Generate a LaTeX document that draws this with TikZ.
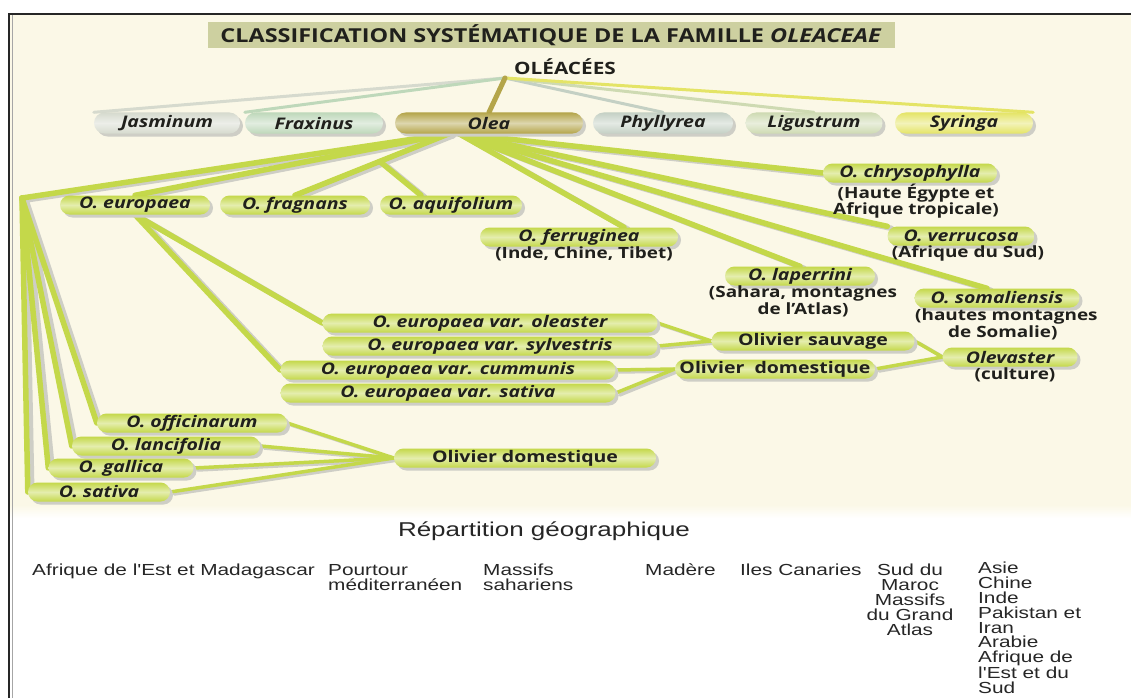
\documentclass[tikz,border=0pt]{standalone}
\usepackage{fontspec}
\setmainfont{Open Sans}[FakeStretch=1.22]
\newfontfamily\geofont{Liberation Sans}[FakeStretch=1.3]
\usetikzlibrary{positioning,shadows,calc}

\definecolor{paper}{RGB}{251,248,231}
\definecolor{lime}{RGB}{196,216,74}
\definecolor{twigshadow}{RGB}{206,206,198}
\definecolor{titlebox}{RGB}{205,208,160}
\definecolor{inktext}{RGB}{32,32,28}
\definecolor{jasgray}{RGB}{214,218,206}
\definecolor{fraxgreen}{RGB}{190,216,186}
\definecolor{oleaolive}{RGB}{180,165,74}
\definecolor{phylgray}{RGB}{196,208,196}
\definecolor{ligugreen}{RGB}{206,218,178}
\definecolor{syriyellow}{RGB}{228,228,102}

\pgfdeclarelayer{paperlayer}
\pgfdeclarelayer{twiglayer}
\pgfsetlayers{paperlayer,twiglayer,main}

\tikzset{
  pill/.style={rounded corners=9.5pt, minimum height=19pt, inner sep=1pt,
    top color=#1, bottom color=#1, middle color=#1!45!white,
    drop shadow={shadow xshift=3pt, shadow yshift=-3pt, fill=twigshadow, opacity=1},
    font=\fontsize{16}{16}\selectfont\bfseries\itshape, text=inktext},
  pill/.default=lime,
  genus/.style={pill=#1, minimum height=21pt, rounded corners=10.5pt},
  plain/.style={font=\fontsize{16}{16}\selectfont\bfseries\upshape},
  note/.style={font=\fontsize{15.5}{14.5}\selectfont\bfseries, align=center,
    inner sep=0pt, text=inktext},
  geo/.style={font=\geofont\fontsize{16}{14.8}\selectfont, inner sep=0pt,
    anchor=north west, align=left, text=black!85},
  twig/.style={draw=lime, line cap=round},
  twigshade/.style={draw=twigshadow, line cap=round,
    transform canvas={shift={(4pt,-2pt)}}}
}

\begin{document}
\begin{tikzpicture}[x=1pt,y=-1pt]
  \useasboundingbox (0,0) rectangle (1131,698);

  % heading
  \node[fill=titlebox, minimum width=687pt, minimum height=26pt, inner sep=0pt,
    font=\fontsize{19.2}{19}\selectfont\bfseries, text=inktext] (title) at (551,35)
    {CLASSIFICATION SYSTÉMATIQUE DE LA FAMILLE \textit{OLEACEAE}};
  \node[font=\fontsize{17}{17}\selectfont\bfseries, text=inktext] (oleacees) at (565,67) {OLÉACÉES};
  \coordinate (root) at (505,78);

  % genera
  \node[genus=jasgray, minimum width=146pt] (jasminum) at (167,123) {Jasminum};
  \node[genus=fraxgreen, minimum width=138pt] (fraxinus) at (314,123) {Fraxinus};
  \node[genus=oleaolive, minimum width=188pt] (olea) at (489,123) {Olea};
  \node[genus=phylgray, minimum width=140pt] (phyllyrea) at (663,123) {Phyllyrea};
  \node[genus=ligugreen, minimum width=137pt] (ligustrum) at (814,123) {Ligustrum};
  \node[genus=syriyellow, minimum width=138pt] (syringa) at (964,123) {Syringa};

  % species of Olea
  \node[pill, minimum width=150pt] (europaea) at (135,205) {O. europaea};
  \node[pill, minimum width=150pt] (fragnans) at (295,205) {O. fragnans};
  \node[pill, minimum width=142pt] (aquifolium) at (451,205) {O. aquifolium};
  \node[pill, minimum width=174pt] (chrysophylla) at (910,173) {O. chrysophylla};
  \node[note, below=1pt of chrysophylla, xshift=6pt] (chrysoregion) {(Haute Égypte et\\Afrique tropicale)};
  \node[pill, minimum width=198pt] (ferruginea) at (579,237) {O. ferruginea};
  \node[note, below=0pt of ferruginea, xshift=5pt] (ferruregion) {(Inde, Chine, Tibet)};
  \node[pill, minimum width=147pt] (verrucosa) at (961,236) {O. verrucosa};
  \node[note, below=0pt of verrucosa, xshift=7pt] (verruregion) {(Afrique du Sud)};
  \node[pill, minimum width=150pt] (laperrini) at (800,276) {O. laperrini};
  \node[note, below=0pt of laperrini, xshift=3pt] (laperregion) {(Sahara, montagnes\\de l'Atlas)};
  \node[pill, minimum width=165pt] (somaliensis) at (997,298) {O. somaliensis};
  \node[note, align=left, anchor=north west] (somaliregion) at (915,309)
    {(hautes montagnes\\\hspace*{33pt}de Somalie)};

  % varieties of O. europaea
  \node[pill, minimum width=335pt] (oleaster) at (490,323) {O. europaea var. oleaster};
  \node[pill, minimum width=335pt] (sylvestris) at (490,346) {O. europaea var. sylvestris};
  \node[pill, minimum width=335pt] (cummunis) at (448,370) {O. europaea var. cummunis};
  \node[pill, minimum width=335pt] (sativavar) at (448,393) {O. europaea var. sativa};
  \node[pill, plain, minimum width=203pt] (sauvage) at (813,341) {Olivier sauvage};
  \node[pill, plain, minimum width=200pt] (domup) at (775,369) {Olivier\ \ domestique};
  \node[pill, minimum width=135pt] (olevaster) at (1010,357) {Olevaster};
  \node[note, below=1pt of olevaster, xshift=5pt] (olevregion) {(culture)};

  % old names
  \node[pill, minimum width=190pt] (officinarum) at (192,423) {O. officinarum};
  \node[pill, minimum width=188pt] (lancifolia) at (166,446) {O. lancifolia};
  \node[pill, minimum width=145pt] (gallica) at (121,468) {O. gallica};
  \node[pill, minimum width=142pt] (sativa) at (99,492) {O. sativa};
  \node[pill, plain, minimum width=262pt] (domlow) at (525,458) {Olivier domestique};

  \coordinate (hub) at ([xshift=-40pt]olea.south);
  \coordinate (hubr) at ([xshift=-30pt]olea.south);
  \coordinate (fork) at (22,198);
  \coordinate (twigaq) at ($(hub)!0.45!(fragnans.north)$);
  \coordinate (aqtop) at ([xshift=-30pt]aquifolium.north);
  \coordinate (ferrutop) at ([xshift=45pt]ferruginea.north);
  \coordinate (somatop) at ([xshift=-10pt]somaliensis.north);

  \begin{pgfonlayer}{paperlayer}
    \fill[white] (0,0) rectangle (1131,698);
    \fill[paper] (10,14) rectangle (1131,505);
    \shade[top color=paper, bottom color=white] (10,505) rectangle (1131,518);
    \draw[line width=1.6pt, black!85] (9,698) -- (9,14) -- (1131,14);
    \draw[line width=0.8pt, black!35] (12.5,698) -- (12.5,15);
  \end{pgfonlayer}

  \begin{pgfonlayer}{twiglayer}
    % family to genera
    \foreach \to/\col in {jasminum.north west/jasgray, fraxinus.north west/fraxgreen,
        phyllyrea.north/phylgray, ligustrum.north/ligugreen, syringa.north east/syriyellow}
      \draw[draw=\col, line width=3pt, line cap=round] (root) -- (\to);
    \draw[draw=oleaolive, line width=5pt, line cap=round] (root) -- (olea.north);
    % Olea and below
    \foreach \look in {twigshade,twig}{
      \foreach \from/\to in {hub/fork, hub/europaea.north, hub/fragnans.north,
          twigaq/aqtop, hubr/ferrutop, hubr/laperrini.north, hubr/somatop,
          hubr/verrucosa.north west, hubr/chrysophylla.west,
          fork/sativa.west, fork/gallica.west, fork/lancifolia.west, fork/officinarum.west,
          europaea.south/oleaster.west, europaea.south/cummunis.west}
        \draw[\look, line width=5.5pt] (\from) -- (\to);
      \foreach \from/\to in {oleaster/sauvage, sylvestris/sauvage,
          cummunis/domup, sativavar/domup, sauvage/olevaster, domup/olevaster,
          officinarum/domlow, lancifolia/domlow, gallica/domlow, sativa/domlow}
        \draw[\look, line width=3.5pt] (\from.east) -- (\to.west);
    }
  \end{pgfonlayer}

  % geographic distribution
  \node[font=\geofont\fontsize{20}{20}\selectfont, text=black!85] (repartition) at (544,531) {Répartition géographique};
  \node[geo] (eastafrica) at (32,564) {Afrique de l'Est et Madagascar};
  \node[geo] (mediterranean) at (328,564) {Pourtour\\méditerranéen};
  \node[geo] (sahara) at (483,564) {Massifs\\sahariens};
  \node[geo] (madeira) at (645,564) {Madère};
  \node[geo] (canaries) at (740,564) {Iles Canaries};
  \node[geo, anchor=north, align=center] (morocco) at (910,564) {Sud du\\Maroc\\Massifs\\du Grand\\Atlas};
  \node[geo] (asia) at (978,562) {Asie\\Chine\\Inde\\Pakistan et\\Iran\\Arabie\\Afrique de\\l'Est et du\\Sud};
\end{tikzpicture}
\end{document}
